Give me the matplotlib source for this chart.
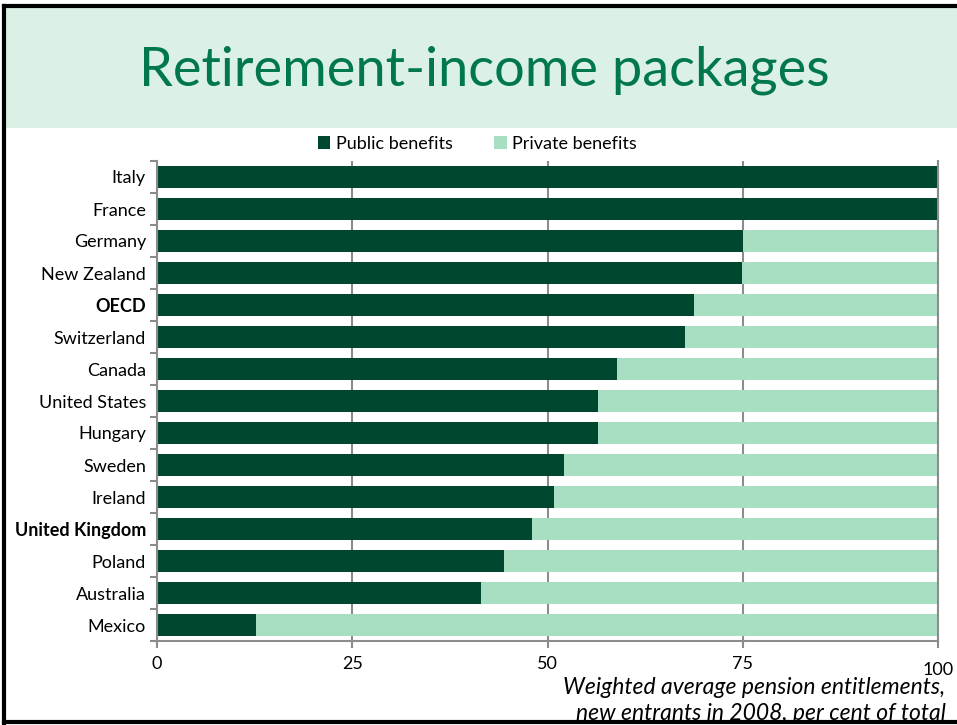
import matplotlib.pyplot as plt
import numpy as np
from matplotlib.patches import Rectangle
from matplotlib.lines import Line2D
from matplotlib.transforms import ScaledTranslation

countries = ['Italy', 'France', 'Germany', 'New Zealand', 'OECD', 'Switzerland',
             'Canada', 'United States', 'Hungary', 'Sweden', 'Ireland',
             'United Kingdom', 'Poland', 'Australia', 'Mexico']
public = [100, 100, 75, 74.9, 68.8, 67.6, 58.9, 56.5, 56.5, 52.1, 50.8, 48.0, 44.4, 41.5, 12.7]
private = [100 - p for p in public]
bold_rows = ['OECD', 'United Kingdom']

dark = '#00472f'
light = '#a8dfc3'
gray = '#8c8c8c'

plt.rcParams['font.family'] = ['Lato', 'DejaVu Sans']

fig = plt.figure(figsize=(9.57, 7.25), dpi=100)

# title band
fig.patches.append(Rectangle((0.005, 1 - 128 / 725), 0.995, 120 / 725, transform=fig.transFigure,
                             facecolor='#dcf1e6', edgecolor='none', zorder=0))
fig.text(0.506, 1 - 70 / 725, 'Retirement-income packages', ha='center', va='center',
         fontsize=39, color='#00784c')

# slide frame lines
for xs, ys in [((0.004, 0.004), (0, 1 - 6 / 725)), ((0.004, 1), (1 - 6 / 725, 1 - 6 / 725)),
               ((0.004, 1), (3 / 725, 3 / 725))]:
    fig.lines.append(Line2D(xs, ys, transform=fig.transFigure, color='black', lw=3))

ax = fig.add_axes([157 / 957, 1 - 641 / 725, (938 - 157) / 957, 480 / 725])
y = np.arange(len(countries))
ax.barh(y, public, height=0.69, color=dark, label='Public benefits', zorder=3)
ax.barh(y, private, left=public, height=0.69, color=light, label='Private benefits', zorder=3)

ax.set_xlim(0, 100)
ax.set_ylim(len(countries) - 0.5, -0.5)
ax.set_xticks([0, 25, 50, 75, 100])
ax.set_yticks(y)
ax.set_yticklabels(countries, fontsize=13)
for lbl in ax.get_yticklabels():
    if lbl.get_text() in bold_rows:
        lbl.set_fontweight('bold')
ax.tick_params(axis='y', length=0, pad=8)
ax.set_yticks(np.arange(len(countries) + 1) - 0.5, minor=True)
ax.tick_params(axis='y', which='minor', length=5, color=gray, width=1.5)
ax.tick_params(axis='x', labelsize=13, length=5, color=gray, width=1.5, pad=6)
# last x label sits a little lower
last = ax.get_xticklabels()[-1]
last.set_transform(last.get_transform() + ScaledTranslation(0, -0.06, fig.dpi_scale_trans))

ax.grid(axis='x', color=gray, lw=1.5, zorder=1)
ax.spines['top'].set_visible(False)
for side in ['left', 'bottom', 'right']:
    ax.spines[side].set_color(gray)
    ax.spines[side].set_linewidth(1.5)
    ax.spines[side].set_zorder(4)

ax.legend(loc='lower center', bbox_to_anchor=(0.41, 1.0), ncol=2, frameon=False,
          fontsize=13, handlelength=0.7, handleheight=0.7, handletextpad=0.3,
          columnspacing=2.3, borderaxespad=0.1)

fig.text(0.988, 1 - 688 / 725, 'Weighted average pension entitlements,', ha='right',
         va='center', fontsize=16.5, style='italic')
fig.text(0.988, 1 - 714 / 725, 'new entrants in 2008, per cent of total', ha='right',
         va='center', fontsize=16.5, style='italic')

fig.savefig('out.png', dpi=100)
